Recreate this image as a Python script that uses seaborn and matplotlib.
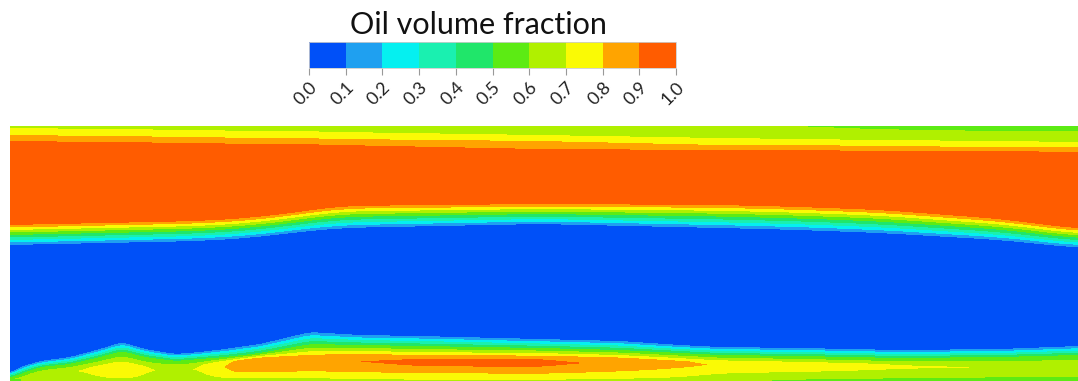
import numpy as np
import matplotlib
matplotlib.use("Agg")
import matplotlib.pyplot as plt
from matplotlib.colors import ListedColormap
import seaborn as sns

# ---- colour scale: ten bands of oil volume fraction ----
levels = [0.0, 0.1, 0.2, 0.3, 0.4, 0.5, 0.6, 0.7, 0.8, 0.9, 1.0]
tick_labels = ["0.0", "0.1", "0.2", "0.3", "0.4", "0.5", "0.6", "0.7", "0.8", "0.9", "1.0"]
band_colors = ["#0050F8", "#1FA0F0", "#05F0F0", "#1AF0B0", "#20E66A",
               "#5CEB14", "#B0F000", "#FAFA05", "#FFA400", "#FF5C00"]

# ---- channel extent (pixel units of the section) ----
x_left, x_right = 10, 1078
y_top, y_bottom = 126, 381

# ---- upper oil layer: stations along the channel ----
top_x = [10, 200, 250, 300, 340, 540, 720, 800, 880, 1000, 1078]
top_wall_phi = [0.66, 0.65, 0.65, 0.64, 0.64, 0.62, 0.61, 0.60, 0.57, 0.55, 0.55]
top_y070 = [128, 130, 131, 131, 132, 135, 138, 139, 140, 141, 142]
top_y080 = [135, 137, 138, 138, 139, 141, 145, 145, 146, 147, 147]
top_y090 = [141, 143, 144, 144, 145, 149, 150, 150, 151, 151, 152]
oil_bottom_y090 = [225, 221, 218, 212, 206, 204, 205, 207, 210, 219, 229]
water_top_y010 = [245, 241, 238, 232, 228, 224, 228, 230, 233, 240, 248]

# ---- lower oil layer: stations along the channel ----
bot_x = [10, 20, 40, 70, 100, 122, 145, 175, 200, 225, 260, 310, 360, 420,
         540, 620, 680, 720, 800, 900, 1000, 1078]
bot_y010 = [373, 367, 361, 357, 349, 342, 349, 354, 352, 349, 344, 332, 335, 336,
            339, 341, 345, 347, 348, 350, 349, 346]
bot_y050 = [378, 374, 367, 364, 357, 351, 357, 361, 359, 357, 353, 344, 345, 346,
            348, 350, 353, 355, 356, 358, 357, 355]
bot_peak_start = [379, 377, 372, 369, 366, 364, 366, 367, 365, 362, 358, 357, 356, 358,
                  358, 359, 361, 362, 363, 364, 364, 363]
bot_peak_end = [380, 379, 376, 374, 374, 375, 374, 374, 373, 372, 370, 367, 367, 367,
                368, 367, 367, 368, 369, 370, 371, 371]
bot_peak_phi = [0.55, 0.62, 0.66, 0.67, 0.73, 0.79, 0.70, 0.66, 0.69, 0.80, 0.85, 0.87,
                0.885, 0.905, 0.905, 0.87, 0.82, 0.77, 0.75, 0.70, 0.68, 0.67]
bot_wall_phi = [0.55, 0.62, 0.64, 0.65, 0.66, 0.66, 0.66, 0.65, 0.65, 0.66, 0.66, 0.66,
                0.67, 0.68, 0.68, 0.67, 0.66, 0.62, 0.58, 0.57, 0.56, 0.56]

# ---- assemble the volume-fraction field column by column ----
cols = np.arange(x_left, x_right) + 0.5
rows = np.arange(y_top, y_bottom) + 0.5


def along(xs, vals, win):
    """Interpolate station values to every column, then soften the kinks."""
    v = np.interp(cols, xs, vals)
    pad = win // 2
    vp = np.concatenate([np.full(pad, v[0]), v, np.full(pad, v[-1])])
    return np.convolve(vp, np.ones(win) / win, mode="valid")


t_wall = along(top_x, top_wall_phi, 61)
t70, t80, t90 = (along(top_x, top_y070, 61), along(top_x, top_y080, 61),
                 along(top_x, top_y090, 61))
o90, w10 = along(top_x, oil_bottom_y090, 61), along(top_x, water_top_y010, 61)
b10, b50 = along(bot_x, bot_y010, 15), along(bot_x, bot_y050, 15)
bpa, bpb = along(bot_x, bot_peak_start, 21), along(bot_x, bot_peak_end, 21)
bpk, bwall = along(bot_x, bot_peak_phi, 31), along(bot_x, bot_wall_phi, 41)

field = np.empty((rows.size, cols.size))
for j in range(cols.size):
    mid = 0.5 * (bpa[j] + bpb[j])
    ys = [y_top, t70[j], t80[j], t90[j], t90[j] + 4, o90[j] - 3, o90[j], w10[j],
          w10[j] + 3, b10[j] - 3, b10[j], b50[j], bpa[j], mid, bpb[j], y_bottom]
    ph = [t_wall[j], 0.7, 0.8, 0.9, 0.97, 0.97, 0.9, 0.1,
          0.02, 0.02, 0.1, 0.5, bpk[j] - 0.01, bpk[j] + 0.015, bpk[j] - 0.01, bwall[j]]
    field[:, j] = np.interp(rows, ys, ph)
field = np.clip(field, 0.0, 0.999)

# ---- figure ----
sns.set_style("white")
plt.rcParams["font.family"] = ["Lato", "DejaVu Sans"]

W, H = 1078, 381
fig = plt.figure(figsize=(W / 100, H / 100), dpi=100)
ax = fig.add_axes([x_left / W, 0, (x_right - x_left) / W, (y_bottom - y_top) / H])
cax = fig.add_axes([309 / W, 1 - 68 / H, (676 - 309) / W, 26 / H])

sns.heatmap(field, ax=ax, cmap=ListedColormap(band_colors), vmin=0, vmax=1,
            xticklabels=False, yticklabels=False, cbar_ax=cax,
            cbar_kws=dict(orientation="horizontal", ticks=levels))
for s in ax.spines.values():
    s.set_visible(False)

cbar = ax.collections[0].colorbar
cbar.outline.set_linewidth(0.6)
cbar.outline.set_edgecolor("#cccccc")
cax.tick_params(axis="x", length=5, width=0.8, color="#999999", pad=3)
cax.set_xticks(levels)
cax.set_xticklabels(tick_labels, rotation=45, ha="right", va="top",
                    rotation_mode="anchor", fontsize=13, color="#222222")

fig.text(478 / W, 1 - 25 / H, "Oil volume fraction", ha="center", va="center",
         fontsize=22, color="#111111")

fig.savefig("out.png", dpi=100)
